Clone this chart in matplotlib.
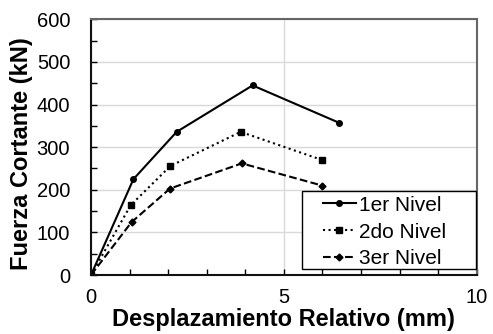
import matplotlib
matplotlib.use("Agg")
import matplotlib.pyplot as plt
from matplotlib.ticker import MultipleLocator
from matplotlib.patches import Rectangle

plt.rcParams['font.family'] = ['Liberation Sans', 'DejaVu Sans']

x1 = [0, 1.10, 2.22, 4.19, 6.44]
y1 = [0, 225, 336, 445, 357]
x2 = [0, 1.03, 2.06, 3.88, 5.99]
y2 = [0, 164, 256, 336, 270]
x3 = [0, 1.05, 2.05, 3.91, 5.99]
y3 = [0, 124, 203, 262, 210]
labels = ['1er Nivel', '2do Nivel', '3er Nivel']

fig = plt.figure(figsize=(4.93, 3.34), dpi=100)
ax = fig.add_axes([0.1846, 0.1766, 0.967 - 0.1846, 0.942 - 0.1766])

ax.plot(x1, y1, '-', color='black', lw=1.5, marker='o', ms=4, label=labels[0])
ax.plot(x2, y2, ':', color='black', lw=1.5, marker='s', ms=4.5, label=labels[1])
ax.plot(x3, y3, '--', color='black', lw=1.5, marker='D', ms=3.5, label=labels[2])

ax.set_xlim(0, 10)
ax.set_ylim(0, 600)
ax.xaxis.set_major_locator(MultipleLocator(5))
ax.xaxis.set_minor_locator(MultipleLocator(1))
ax.yaxis.set_major_locator(MultipleLocator(100))
ax.yaxis.set_minor_locator(MultipleLocator(50))
ax.grid(True, which='major', color='#d9d9d9', lw=1.0)
ax.set_axisbelow(True)

ax.tick_params(axis='both', which='both', direction='in', length=4, width=1, labelsize=14.5)
ax.tick_params(axis='x', which='major', pad=9)
ax.tick_params(axis='y', which='major', pad=15)

for s in ['left', 'bottom']:
    ax.spines[s].set_color('#111111')
    ax.spines[s].set_linewidth(1.5)
for s in ['top', 'right']:
    ax.spines[s].set_color('#666666')
    ax.spines[s].set_linewidth(1.5)

ax.set_xlabel('Desplazamiento Relativo (mm)', fontsize=17, fontweight='bold')
ax.set_ylabel('Fuerza Cortante (kN)', fontsize=17, fontweight='bold')
ax.xaxis.set_label_coords(0.5, -0.1275)
ax.yaxis.set_label_coords(-0.15, 0.473)

ax.add_patch(Rectangle((0.5462, 0.0235), 0.998 - 0.5462, 0.3285 - 0.0235,
                       transform=ax.transAxes, facecolor='white',
                       edgecolor='black', lw=1.0, zorder=4, clip_on=False))
leg = ax.legend(loc='center left', bbox_to_anchor=(0.601, 0.168), fontsize=15,
                frameon=False, handlelength=1.6, borderpad=0, borderaxespad=0,
                labelspacing=0.38, handletextpad=0.12)
leg.set_zorder(5)

fig.savefig('out.png', dpi=100)
